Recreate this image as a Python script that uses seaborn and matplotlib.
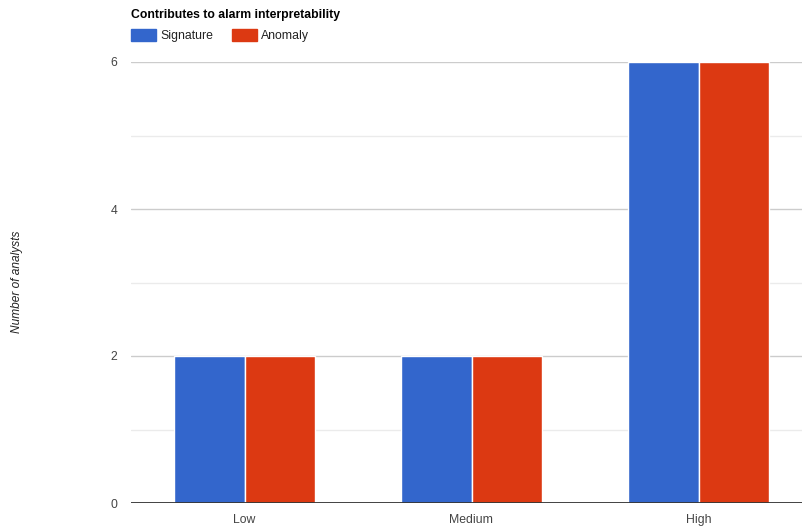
import matplotlib
matplotlib.use("Agg")
import matplotlib.pyplot as plt
import matplotlib.patches as mpatches
import seaborn as sns
import pandas as pd

categories = ["Low", "Medium", "High"]
signature = [2, 2, 6]
anomaly = [2, 2, 6]
series_names = ["Signature", "Anomaly"]
colors = ["#3366cc", "#dc3912"]

df = pd.DataFrame({
    "level": categories * 2,
    "count": signature + anomaly,
    "method": [series_names[0]] * len(categories) + [series_names[1]] * len(categories),
})

sns.set_style("white")
plt.rcParams["font.family"] = ["Liberation Sans", "DejaVu Sans"]

FS = 8.8

fig = plt.figure(figsize=(8.02, 5.26), dpi=100)
W, H = 802, 526
ax = fig.add_axes([131 / W, 23 / H, 681 / W, 441 / H])

sns.barplot(data=df, x="level", y="count", hue="method", order=categories,
            hue_order=series_names, palette=colors, width=0.62,
            edgecolor="white", linewidth=1, saturation=1, ax=ax, legend=False)

ax.set_xlim(-0.5, 2.5)
ax.set_ylim(0, 6)
for v in [1, 3, 5]:
    ax.axhline(v, color="#ebebeb", lw=1, zorder=0)
for v in [2, 4, 6]:
    ax.axhline(v, color="#cccccc", lw=1, zorder=0)
ax.axhline(0, color="#333333", lw=1.3, zorder=3)

ax.set_yticks([0, 2, 4, 6])
ax.set_yticklabels(["0", "2", "4", "6"])
ax.tick_params(axis="both", length=0, labelsize=FS, labelcolor="#444444")
ax.tick_params(axis="y", pad=10)
ax.tick_params(axis="x", pad=8)
for s in ax.spines.values():
    s.set_visible(False)
ax.set_xlabel("")
ax.set_ylabel("")

fig.text(17 / W, 1 - 282 / H, "Number of analysts", rotation=90, style="italic",
         fontsize=8.6, color="#222222", ha="center", va="center")

fig.text(131 / W, 1 - 15 / H, "Contributes to alarm interpretability",
         fontsize=FS, fontweight="bold", color="#000000", ha="left", va="center")

legend_x = [131, 232]
for x0, name, c in zip(legend_x, series_names, colors):
    fig.patches.append(mpatches.Rectangle((x0 / W, 1 - 41 / H), 25 / W, 12 / H,
                                          transform=fig.transFigure, color=c))
    fig.text((x0 + 29) / W, 1 - 35.5 / H, name, fontsize=FS, color="#222222",
             ha="left", va="center")

fig.savefig("out.png", dpi=100)
